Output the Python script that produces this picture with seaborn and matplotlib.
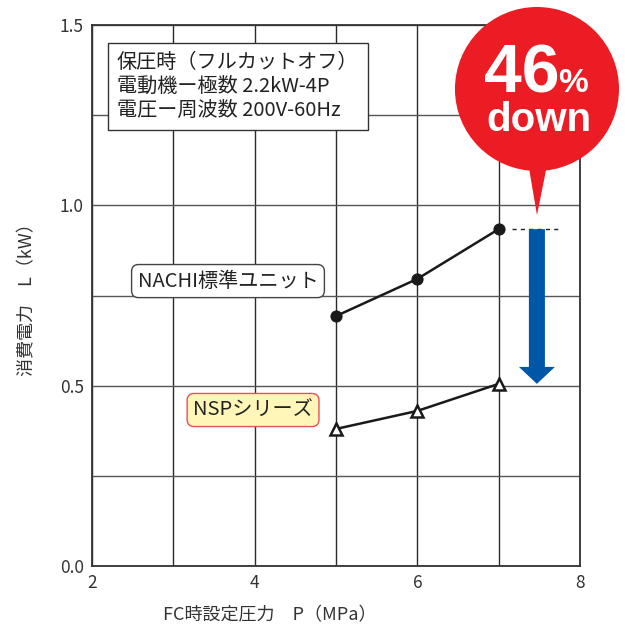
import matplotlib
matplotlib.use("Agg")
import matplotlib.pyplot as plt
from matplotlib.patches import Ellipse, Polygon, FancyArrow
import seaborn as sns
import pandas as pd

# ---- data ----
pressure_mpa = [5, 6, 7]
nachi_kw = [0.693, 0.796, 0.934]
nsp_kw = [0.380, 0.430, 0.505]
x_ticks = [2, 4, 6, 8]
y_ticks = [0.0, 0.5, 1.0, 1.5]
series_names = ["NACHI標準ユニット", "NSPシリーズ"]
info_lines = ["保圧時（フルカットオフ）", "電動機ー極数 2.2kW-4P", "電圧ー周波数 200V-60Hz"]
x_label = "FC時設定圧力　P（MPa）"
y_label = "消費電力　L（kW）"
badge_number = "46"
badge_unit = "%"
badge_word = "down"

sns.set_theme(style="white")
plt.rcParams["font.family"] = ["Noto Sans CJK JP", "DejaVu Sans"]

df = pd.DataFrame({
    "P": pressure_mpa * 2,
    "L": nachi_kw + nsp_kw,
    "series": [series_names[0]] * 3 + [series_names[1]] * 3,
})

fig = plt.figure(figsize=(6.25, 6.28), dpi=100)
ax = fig.add_axes([92 / 625, 62 / 628, 488 / 625, 541 / 628])

ax.set_xlim(2, 8)
ax.set_ylim(0, 1.5)
ax.set_xticks(x_ticks)
ax.set_xticks([3, 5, 7], minor=True)
ax.set_yticks(y_ticks)
ax.set_yticks([0.25, 0.75, 1.25], minor=True)
ax.set_xticklabels([str(v) for v in x_ticks])
ax.set_yticklabels([f"{v:.1f}" for v in y_ticks])
ax.tick_params(which="both", length=0, labelsize=12.5, colors="#333333")
ax.tick_params(axis="x", pad=6)
ax.tick_params(axis="y", pad=6)
ax.xaxis.grid(True, which="both", color="#2a2a2a", lw=1.0)
ax.yaxis.grid(True, which="both", color="#555555", lw=1.0)
ax.set_axisbelow(True)
for s in ax.spines.values():
    s.set_color("#333333")
    s.set_linewidth(1.3)

d1 = df[df.series == series_names[0]]
d2 = df[df.series == series_names[1]]
sns.lineplot(data=d1, x="P", y="L", ax=ax, color="#1a1a1a", lw=1.8,
             marker="o", markersize=8, markeredgecolor="#1a1a1a", zorder=5)
sns.lineplot(data=d2, x="P", y="L", ax=ax, color="#1a1a1a", lw=1.8,
             marker="^", markersize=8, markerfacecolor="white",
             markeredgecolor="#1a1a1a", markeredgewidth=1.8, zorder=5)

ax.set_xlabel(x_label, fontsize=13, color="#333333")
ax.set_ylabel(y_label, fontsize=13, color="#333333")
ax.xaxis.set_label_coords(0.365, -0.075)
ax.yaxis.set_label_coords(-0.115, 0.5)

# info box
ax.text(2.307, 1.3295, "\n".join(info_lines), fontsize=14.5, color="#222222",
        ha="left", va="center", linespacing=1.2, zorder=6,
        bbox=dict(boxstyle="square,pad=0.45", fc="white", ec="#333333", lw=1.0))

# series labels
ax.text(3.672, 0.790, series_names[0], fontsize=14.5, color="#222222",
        ha="center", va="center", zorder=6,
        bbox=dict(boxstyle="round,pad=0.3,rounding_size=0.35", fc="white",
                  ec="#444444", lw=1.0))
ax.text(3.980, 0.4325, series_names[1], fontsize=14.5, color="#222222",
        ha="center", va="center", zorder=6,
        bbox=dict(boxstyle="round,pad=0.3,rounding_size=0.35", fc="#fff6b8",
                  ec="#e8505b", lw=1.0))

# dashed reference and reduction arrow
ax.plot([7.16, 7.78], [nachi_kw[-1], nachi_kw[-1]], ls=(0, (3, 3)),
        color="#222222", lw=1.0, zorder=4)
ax.add_patch(FancyArrow(7.47, nachi_kw[-1], 0, nsp_kw[-1] - nachi_kw[-1],
                        width=0.197, head_width=0.443, head_length=0.047,
                        length_includes_head=True, color="#0057a8", lw=0,
                        zorder=4))

# red badge
red = "#ec1c24"
ax.add_patch(Ellipse((7.471, 1.3226), 2.017, 0.4547, color=red, lw=0,
                     clip_on=False, zorder=7))
ax.add_patch(Polygon([(7.336, 1.152), (7.631, 1.152), (7.471, 0.973)],
                     closed=True, color=red, lw=0, clip_on=False, zorder=7))
ax.text(7.29, 1.314, badge_number, fontsize=49, fontweight="bold",
        family=["Liberation Sans", "DejaVu Sans"], color="white",
        ha="center", va="baseline", zorder=8, clip_on=False)
ax.text(7.91, 1.314, badge_unit, fontsize=24, fontweight="bold",
        family=["Liberation Sans", "DejaVu Sans"], color="white",
        ha="center", va="baseline", zorder=8, clip_on=False)
ax.text(7.496, 1.206, badge_word, fontsize=29, fontweight="bold",
        family=["Liberation Sans", "DejaVu Sans"], color="white",
        ha="center", va="baseline", zorder=8, clip_on=False)

fig.savefig("out.png", dpi=100)
